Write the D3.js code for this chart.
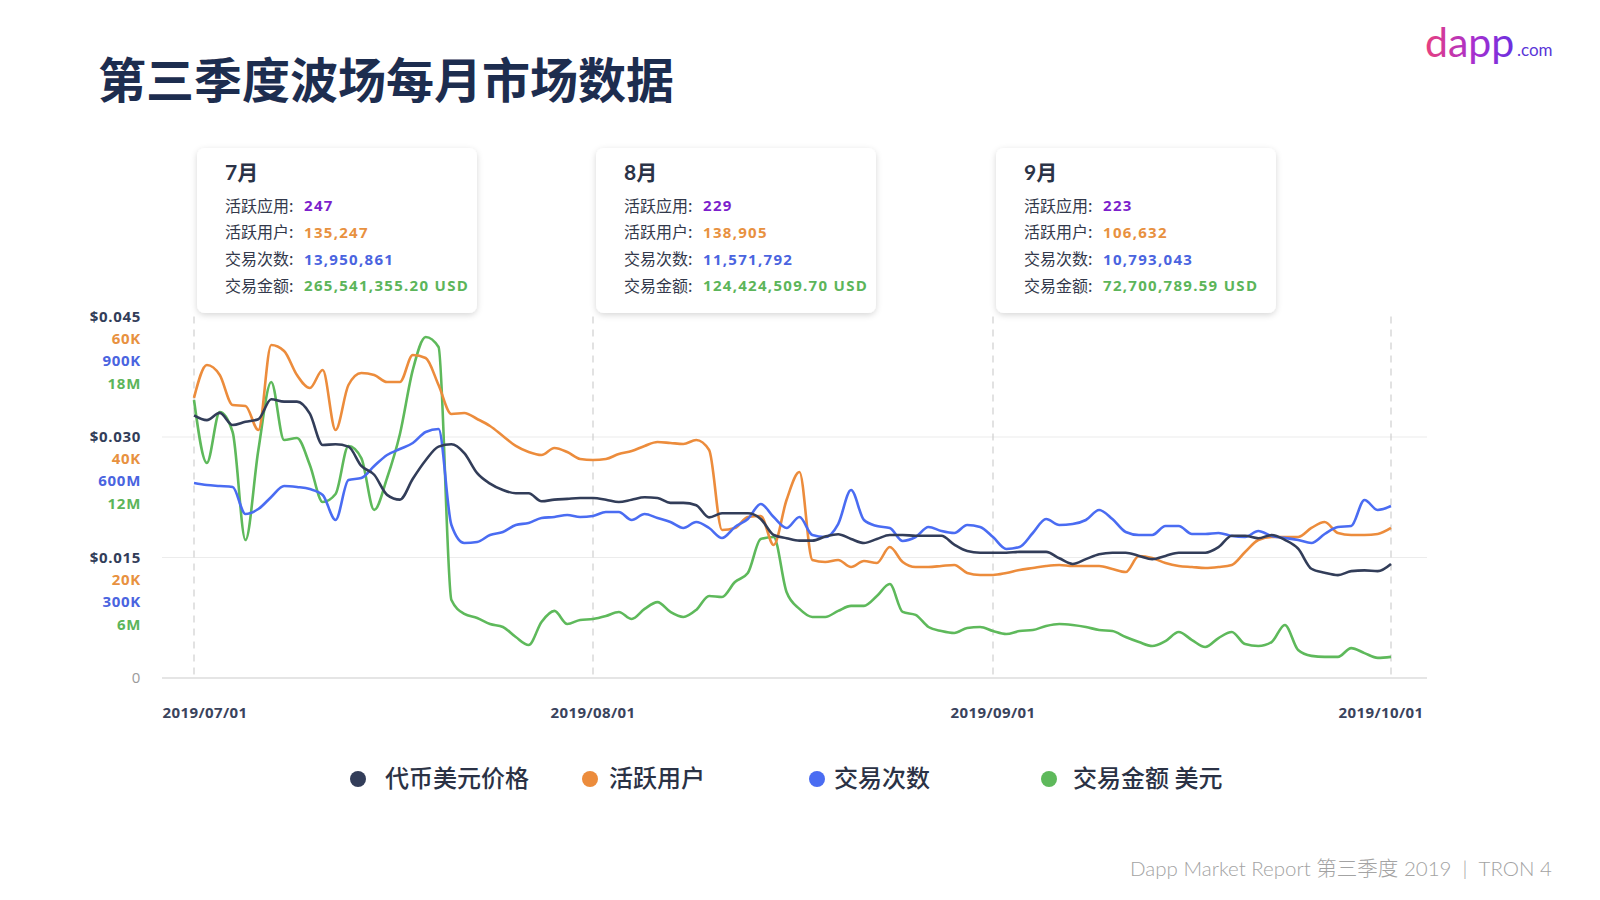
<!DOCTYPE html>
<html>
<head>
<meta charset="utf-8">
<script src="https://cdn.jsdelivr.net/npm/d3@7"></script>
<style>
  html, body { margin: 0; padding: 0; background: #fff; }
  svg { display: block; font-family: "Lato", "Noto Sans CJK SC", sans-serif; }
</style>
</head>
<body>
<div id="chart"></div>
<script>
// daily values 2019/07/01 .. 2019/10/01
const startDate = new Date(2019, 6, 1);
const endDate = new Date(2019, 9, 1);

const price = [0.0327,0.0321,0.0330,0.0315,0.0319,0.0322,0.0347,0.0344,0.0344,0.0329,
  0.0290,0.0291,0.0288,0.0264,0.0253,0.0228,0.0222,0.0248,0.0271,0.0288,
  0.0291,0.0280,0.0255,0.0242,0.0234,0.0230,0.0230,0.0220,0.0222,0.0223,
  0.0224,0.0224,0.0222,0.0219,0.0222,0.0225,0.0224,0.0218,0.0218,0.0215,
  0.0200,0.0205,0.0205,0.0205,0.0198,0.0178,0.0174,0.0171,0.0171,0.0176,
  0.0179,0.0173,0.0168,0.0173,0.0178,0.0178,0.0177,0.0177,0.0177,0.0166,
  0.0158,0.0156,0.0156,0.0156,0.0157,0.0157,0.0157,0.0149,0.0142,0.0148,
  0.0154,0.0156,0.0156,0.0152,0.0148,0.0152,0.0156,0.0156,0.0156,0.0163,
  0.0177,0.0177,0.0174,0.0178,0.0172,0.0161,0.0136,0.0131,0.0128,0.0133,
  0.0134,0.0133,0.0142];

const users = [46500,51950,50290,45310,45150,41160,55270,54280,50290,48130,
  51120,41160,48630,50620,50290,49130,49130,53610,53110,48630,
  43820,43980,42990,41830,40170,38510,37510,37010,38180,37510,
  36350,36180,36350,37180,37680,38510,39170,39010,38840,39500,
  37840,24570,24900,26720,26890,22080,29540,34190,19590,19250,
  19590,18420,19420,19090,21740,19250,18420,18420,18590,18760,
  17430,17100,17100,17430,17930,18260,18590,18760,18590,18590,
  18590,18090,17590,20250,19920,19090,18590,18420,18260,18420,
  18760,20910,22910,23400,23400,23400,24900,25890,24070,23740,
  23740,23900,24900];

const txCount = [485500,480500,478000,475500,408300,420700,450600,478000,475500,470500,
  455600,393400,492900,497900,527800,555200,570100,585100,612400,619900,
  380900,336100,338600,356000,363500,380900,385900,398300,400800,405800,
  400800,403300,413300,413300,393400,408300,398300,388400,373400,388400,
  373400,348500,375900,395800,433200,400800,373400,400800,356000,351000,
  383400,468000,393400,378400,373400,341100,351000,375900,366000,361000,
  380900,375900,351000,321200,326100,361000,395800,380900,383400,393400,
  418300,395800,363500,356000,356000,378400,378400,358500,358500,361000,
  353500,351000,366000,353500,348500,343600,336100,358500,375900,378400,
  443100,418300,428200];

const volume = [13.84,10.71,13.24,12.25,6.87,11.35,14.74,11.85,11.95,10.61,
  8.76,9.16,11.55,10.95,8.37,9.96,12.15,15.34,16.98,16.48,
  3.88,3.19,2.99,2.69,2.54,2.04,1.64,2.79,3.34,2.69,
  2.89,2.94,3.09,3.29,2.94,3.44,3.78,3.29,3.04,3.39,
  4.08,4.03,4.78,5.23,6.92,7.02,4.28,3.44,3.04,3.04,
  3.34,3.59,3.59,4.08,4.68,3.29,3.14,2.54,2.34,2.24,
  2.49,2.54,2.34,2.19,2.34,2.39,2.59,2.69,2.64,2.54,
  2.39,2.34,2.04,1.79,1.59,1.84,2.29,1.89,1.54,1.99,
  2.29,1.69,1.59,1.79,2.64,1.39,1.10,1.05,1.05,1.49,
  1.24,1.00,1.05].map(v => v * 1e6);

// axis labels
const priceTicks = [0.045, 0.030, 0.015];
const priceLabels = ["$0.045", "$0.030", "$0.015"];
const userLabels = ["60K", "40K", "20K"];
const txLabels = ["900K", "600M", "300K"];
const volLabels = ["18M", "12M", "6M"];
const monthTicks = [new Date(2019, 6, 1), new Date(2019, 7, 1), new Date(2019, 8, 1), new Date(2019, 9, 1)];

// monthly summary cards
const cardMonths = ["7月", "8月", "9月"];
const cardApps = [247, 229, 223];
const cardUsers = [135247, 138905, 106632];
const cardTx = [13950861, 11571792, 10793043];
const cardVolume = [265541355.20, 124424509.70, 72700789.59];

const legendNames = ["代币美元价格", "活跃用户", "交易次数", "交易金额 美元"];

const colors = { price: "#323d59", users: "#ec8c3c", tx: "#4a6cf2", vol: "#5eb95b" };
const labelColors = { price: "#323d59", users: "#e8913f", tx: "#4a64e0", vol: "#5cb55a" };

const W = 1600, H = 900;
const svg = d3.select("#chart").append("svg").attr("width", W).attr("height", H);

const defs = svg.append("defs");
const shadow = defs.append("filter").attr("id", "shadow")
  .attr("x", "-10%").attr("y", "-10%").attr("width", "120%").attr("height", "130%");
shadow.append("feDropShadow").attr("dx", 0).attr("dy", 2).attr("stdDeviation", 3)
  .attr("flood-color", "#000").attr("flood-opacity", 0.16);

const grad = defs.append("linearGradient").attr("id", "logoGrad")
  .attr("x1", "0%").attr("x2", "100%");
grad.append("stop").attr("offset", "0%").attr("stop-color", "#e8407f");
grad.append("stop").attr("offset", "55%").attr("stop-color", "#a72fcf");
grad.append("stop").attr("offset", "100%").attr("stop-color", "#6a2fe0");

// title
svg.append("text").attr("x", 98).attr("y", 98)
  .attr("font-family", "Noto Sans CJK SC").attr("font-weight", 700)
  .attr("font-size", 48).attr("fill", "#1d2d4f")
  .text("第三季度波场每月市场数据");

// logo
svg.append("text").attr("x", 1425).attr("y", 57)
  .attr("font-family", "Lato").attr("font-size", 41).attr("font-weight", 400)
  .attr("fill", "url(#logoGrad)").text("dapp");
svg.append("text").attr("x", 1517).attr("y", 56)
  .attr("font-family", "Lato").attr("font-size", 17)
  .attr("fill", "#5a35d8").text(".com");

// scales (month starts sit at even spacing in the reference)
const x = d3.scaleTime().domain(monthTicks).range([194, 593, 993, 1391]);
const y0 = 678, y1 = 316.5;
const yPrice = d3.scaleLinear().domain([0, 0.045]).range([y0, y1]);
const yUsers = d3.scaleLinear().domain([0, 60000]).range([y0, y1]);
const yTx = d3.scaleLinear().domain([0, 900000]).range([y0, y1]);
const yVol = d3.scaleLinear().domain([0, 18e6]).range([y0, y1]);

const days = d3.timeDay.range(startDate, d3.timeDay.offset(endDate, 1));

// grid
const grid = svg.append("g");
grid.selectAll("line.h").data([0.015, 0.030]).enter().append("line")
  .attr("x1", 162).attr("x2", 1427)
  .attr("y1", d => yPrice(d)).attr("y2", d => yPrice(d))
  .attr("stroke", "#ececec").attr("stroke-width", 1.2);
grid.append("line")
  .attr("x1", 162).attr("x2", 1427).attr("y1", yPrice(0)).attr("y2", yPrice(0))
  .attr("stroke", "#dcdcdc").attr("stroke-width", 1.5);
grid.selectAll("line.v").data(monthTicks).enter().append("line")
  .attr("x1", d => x(d)).attr("x2", d => x(d))
  .attr("y1", yPrice(0.045)).attr("y2", yPrice(0))
  .attr("stroke", "#cfcfcf").attr("stroke-width", 1.2)
  .attr("stroke-dasharray", "7,6");

// y labels
const yLab = svg.append("g").attr("font-family", "Open Sans").attr("font-weight", 700)
  .attr("font-size", 15).attr("letter-spacing", 0.7).attr("text-anchor", "end");
const stacks = [
  { labels: priceLabels, color: labelColors.price, dy: 0 },
  { labels: userLabels, color: labelColors.users, dy: 22 },
  { labels: txLabels, color: labelColors.tx, dy: 44 },
  { labels: volLabels, color: labelColors.vol, dy: 67 }
];
stacks.forEach(s => {
  yLab.selectAll(null).data(priceTicks).enter().append("text")
    .attr("x", 141).attr("y", d => yPrice(d) + s.dy)
    .attr("dy", "0.35em").attr("fill", s.color)
    .text((d, i) => s.labels[i]);
});
yLab.append("text").attr("x", 141).attr("y", yPrice(0)).attr("dy", "0.35em")
  .attr("fill", "#9a9a9a").attr("font-weight", 400).text("0");

// x labels
const fmtDate = d3.timeFormat("%Y/%m/%d");
svg.append("g").selectAll("text").data(monthTicks).enter().append("text")
  .attr("x", (d, i) => x(d) + (i === 0 ? 11 : i === monthTicks.length - 1 ? -10 : 0))
  .attr("y", 713).attr("dy", "0.35em").attr("text-anchor", "middle")
  .attr("font-family", "Open Sans").attr("letter-spacing", 0.4)
  .attr("font-size", 15).attr("font-weight", 700).attr("fill", "#3a435c")
  .text(d => fmtDate(d));

// lines
const series = [
  { values: volume, scale: yVol, color: colors.vol },
  { values: users, scale: yUsers, color: colors.users },
  { values: txCount, scale: yTx, color: colors.tx },
  { values: price, scale: yPrice, color: colors.price }
];
series.forEach(s => {
  const line = d3.line()
    .x((d, i) => x(days[i]))
    .y(d => s.scale(d))
    .curve(d3.curveMonotoneX);
  svg.append("path").datum(s.values)
    .attr("d", line)
    .attr("fill", "none")
    .attr("stroke", s.color)
    .attr("stroke-width", 2.6)
    .attr("stroke-linejoin", "round");
});

// cards
const fmtInt = d3.format(",");
const fmtMoney = d3.format(",.2f");
const cards = svg.append("g").selectAll("g").data(cardMonths).enter().append("g")
  .attr("transform", (d, i) => "translate(" + (x(monthTicks[i]) + 3) + ",148)");
cards.append("rect").attr("width", 280).attr("height", 165).attr("rx", 8)
  .attr("fill", "#fff").attr("filter", "url(#shadow)");
cards.append("text").attr("x", 28).attr("y", 32)
  .attr("font-size", 21).attr("font-weight", 700).attr("fill", "#2b3347")
  .text(d => d);
const rowNames = ["活跃应用:", "活跃用户:", "交易次数:", "交易金额:"];
const rowColors = ["#7c1fcc", "#e8913f", "#4a64e0", "#5cb55a"];
cards.each(function (d, i) {
  const g = d3.select(this);
  const vals = [cardApps[i], fmtInt(cardUsers[i]), fmtInt(cardTx[i]), fmtMoney(cardVolume[i]) + " USD"];
  rowNames.forEach((name, r) => {
    g.append("text").attr("x", 28).attr("y", 58 + r * 26.7).attr("dy", "0.35em")
      .attr("font-family", "Noto Sans CJK SC")
      .attr("font-size", 16).attr("fill", "#33394b").text(name);
    g.append("text").attr("x", 107).attr("y", 58 + r * 26.7).attr("dy", "0.35em")
      .attr("font-family", "Open Sans").attr("letter-spacing", 1.3)
      .attr("font-size", 15).attr("font-weight", 700).attr("fill", rowColors[r])
      .text(vals[r]);
  });
});

// legend
const legendColors = [colors.price, colors.users, colors.tx, colors.vol];
const legendDotX = [358, 590, 817, 1049];
const legendTextX = [385, 609, 834, 1073];
const legend = svg.append("g").selectAll("g").data(legendNames).enter().append("g");
legend.append("circle").attr("cx", (d, i) => legendDotX[i]).attr("cy", 779).attr("r", 8)
  .attr("fill", (d, i) => legendColors[i]);
legend.append("text").attr("x", (d, i) => legendTextX[i]).attr("y", 779).attr("dy", "0.35em")
  .attr("font-family", "Noto Sans CJK SC").attr("font-size", 24).attr("font-weight", 500)
  .attr("fill", "#2b3245").text(d => d);

// footer
svg.append("text").attr("x", 1552).attr("y", 869).attr("dy", "0.35em")
  .attr("text-anchor", "end").attr("font-size", 20.5).attr("fill", "#a3a3a3")
  .attr("font-weight", 300)
  .text("Dapp Market Report 第三季度 2019\u00a0\u00a0|\u00a0\u00a0TRON 4");
</script>
</body>
</html>
